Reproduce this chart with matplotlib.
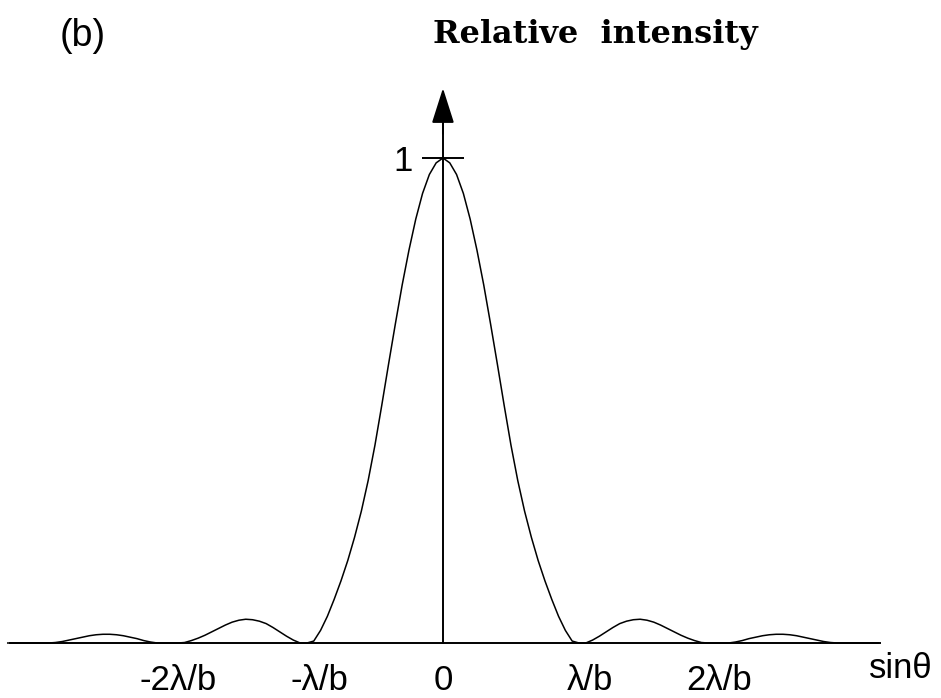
import matplotlib
matplotlib.use("Agg")
import matplotlib.pyplot as plt
from matplotlib.transforms import ScaledTranslation

# half profile (sin theta in units of lambda/b); mirrored for the left side
u_half = [0.0, 0.05, 0.10, 0.15, 0.20, 0.25, 0.30, 0.35, 0.40, 0.45, 0.50,
          0.55, 0.60, 0.65, 0.70, 0.75, 0.80, 0.85, 0.90, 0.95, 1.00,
          1.05, 1.10, 1.15, 1.20, 1.25, 1.30, 1.35, 1.40, 1.45, 1.50,
          1.55, 1.60, 1.65, 1.70, 1.75, 1.80, 1.85, 1.90, 1.95, 2.10,
          2.15, 2.20, 2.25, 2.30, 2.35, 2.40, 2.45, 2.50, 2.55, 2.60,
          2.65, 2.70, 2.75, 2.80, 2.85, 2.90, 3.20]
intensity_half = [1.000, 0.990, 0.966, 0.927, 0.874, 0.810, 0.738, 0.658, 0.575, 0.490, 0.408,
                  0.335, 0.272, 0.218, 0.170, 0.128, 0.090, 0.055, 0.026, 0.004, 0.000,
                  0.000, 0.006, 0.014, 0.023, 0.032, 0.040, 0.045, 0.048, 0.049, 0.047,
                  0.043, 0.037, 0.030, 0.023, 0.016, 0.010, 0.005, 0.001, 0.000, 0.000,
                  0.002, 0.005, 0.009, 0.012, 0.015, 0.017, 0.018, 0.018, 0.017, 0.015,
                  0.012, 0.009, 0.006, 0.003, 0.001, 0.000, 0.000]

tick_pos = [-2, -1, 0, 1, 2]
tick_labels = ["-2\u03bb/b", "-\u03bb/b", "0", "\u03bb/b", "2\u03bb/b"]
label_shift_px = [5, 9, 0, 8, 3]  # labels in the scan sit a bit right of the marks


def show_pattern():
    plt.rcParams['font.family'] = ['Liberation Sans', 'DejaVu Sans']

    fig = plt.figure(figsize=(9.41, 6.98), dpi=100)
    ax = fig.add_axes([0, 0, 1, 1])

    u = [-v for v in u_half[::-1]] + u_half[1:]
    inten = intensity_half[::-1] + intensity_half[1:]
    ax.plot(u, inten, color='black', lw=1.1)

    ax.set_xlim(-3.257, 3.662)
    ax.set_ylim(-0.1134, 1.3258)

    for s in ['top', 'right']:
        ax.spines[s].set_visible(False)
    ax.spines['bottom'].set_position(('data', 0))
    ax.spines['bottom'].set_bounds(-3.18, 3.21)
    ax.spines['left'].set_position(('data', 0))
    ax.spines['left'].set_bounds(0, 1.10)
    ax.spines['bottom'].set_linewidth(1.4)
    ax.spines['left'].set_linewidth(1.4)

    # arrow head on the intensity axis
    ax.annotate('', xy=(0, 1.144), xytext=(0, 1.05),
                arrowprops=dict(arrowstyle='-|>,head_length=2.2,head_width=0.7',
                                mutation_scale=10, color='black', lw=1.4,
                                shrinkA=0, shrinkB=0))

    ax.set_xticks(tick_pos)
    ax.set_xticklabels(tick_labels, fontsize=25)
    ax.tick_params(axis='x', length=0, pad=15)
    for lab, dx in zip(ax.get_xticklabels(), label_shift_px):
        lab.set_transform(lab.get_transform() + ScaledTranslation(dx / 72, 0, fig.dpi_scale_trans))

    ax.set_yticks([1])
    ax.set_yticklabels(['1'], fontsize=25)
    ax.tick_params(axis='y', direction='inout', length=30, width=1.4, pad=7)

    ax.annotate('sin\u03b8', xy=(3.21, 0), xytext=(15, -18), textcoords='offset points',
                ha='center', va='center', fontsize=25)

    fig.text(595 / 941, 1 - 43 / 698, 'Relative  intensity', family='DejaVu Serif',
             weight='bold', fontsize=23, ha='center', va='baseline')
    fig.text(60 / 941, 1 - 36 / 698, '(b)', fontsize=27, ha='left', va='center')

    fig.savefig('out.png', dpi=100)


if __name__ == '__main__':
    show_pattern()
